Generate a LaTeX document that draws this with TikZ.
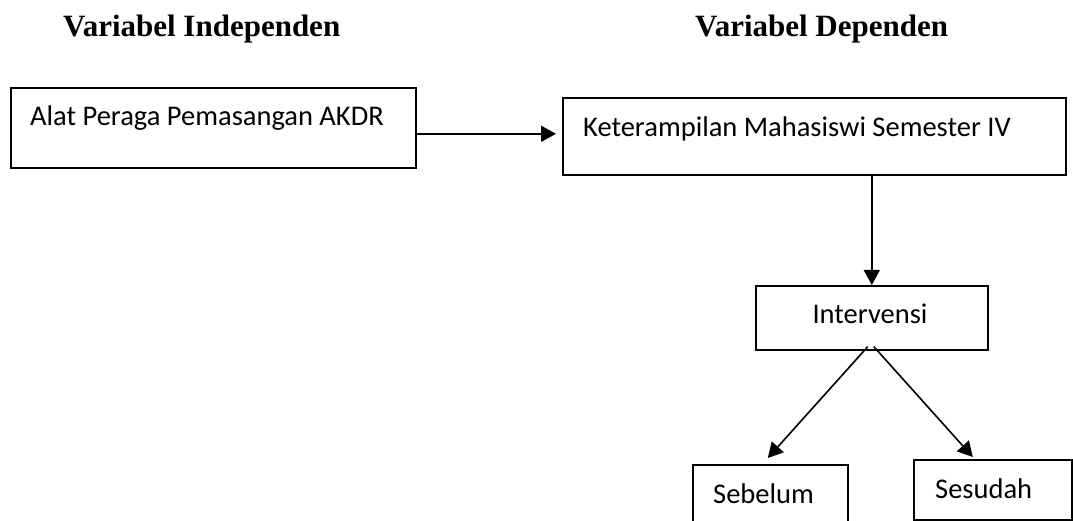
\documentclass[tikz,border=0pt]{standalone}
\usepackage{fontspec}
\setmainfont{Carlito}
\newfontfamily\titlefont{Liberation Serif}
\usetikzlibrary{arrows.meta,calc}
\begin{document}
\begin{tikzpicture}[x=1pt,y=-1pt,
 box/.style={draw=black, line width=1.6pt, anchor=north west, inner sep=0pt},
 txt/.style={font=\fontsize{28.5}{34}\selectfont, inner sep=0pt},
 ttl/.style={font=\titlefont\bfseries\fontsize{31}{36}\selectfont, inner sep=0pt, anchor=base west},
 arr/.style={line width=1.6pt, -{Triangle[length=15pt,width=16pt]}}]
\useasboundingbox (0,0) rectangle (1073,521);
\node[ttl] (t1) at (63,37) {Variabel Independen};
\node[ttl] (t2) at (695,37) {Variabel Dependen};
\node[box, minimum width=405pt, minimum height=80pt] (b1) at (10,87) {};
\node[txt, anchor=base west] (l1) at (30,126) {Alat Peraga Pemasangan AKDR};
\node[box, minimum width=503pt, minimum height=77pt] (b2) at (562,97) {};
\node[txt, anchor=base west] (l2) at (583,137) {Keterampilan Mahasiswi Semester IV};
\node[box, minimum width=232pt, minimum height=64pt] (iv) at (755,285) {};
\node[txt, anchor=base] (l3) at (870,323) {Intervensi};
\node[box, minimum width=155pt, minimum height=70pt] (sb) at (692,464) {};
\node[txt, anchor=base west] (l4) at (713,503) {Sebelum};
\node[box, minimum width=158pt, minimum height=60pt] (ss) at (913,459) {};
\node[txt, anchor=base west] (l5) at (935,498) {Sesudah};
\draw[arr, shorten >=6pt] ([yshift=-6pt]b1.east) -- ([yshift=-6pt]b1.east -| b2.west);
\draw[arr] (b2.south -| iv.north) -- (iv.north);
\draw[arr] ([xshift=-4pt,yshift=4pt]iv.south) -- ([xshift=-2.5pt,yshift=6pt]sb.north);
\draw[arr] ([xshift=2pt,yshift=4pt]iv.south) -- ([xshift=-20pt,yshift=2pt]ss.north);
\end{tikzpicture}
\end{document}
